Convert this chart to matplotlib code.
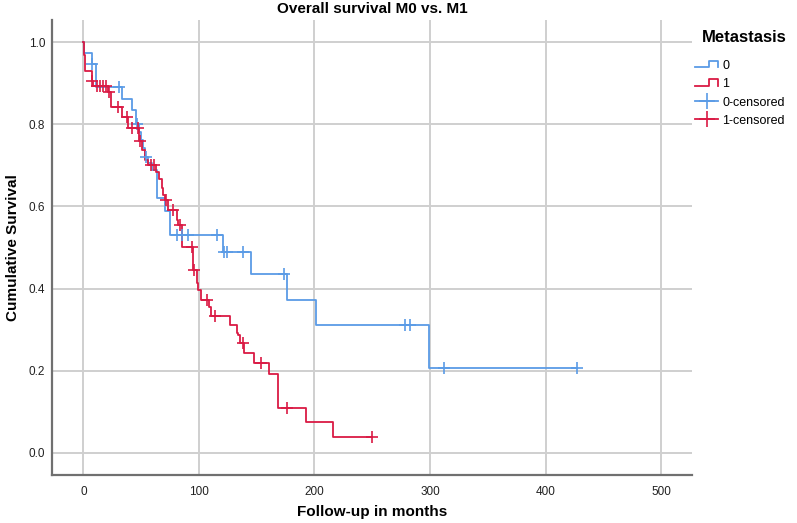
import numpy as np
import matplotlib
matplotlib.use("Agg")
import matplotlib.pyplot as plt
from matplotlib.lines import Line2D
from matplotlib.legend_handler import HandlerBase

plt.rcParams['font.family'] = ['Liberation Sans', 'DejaVu Sans']

# ---- data ----
title = "Overall survival M0 vs. M1"
xlabel = "Follow-up in months"
ylabel = "Cumulative Survival"
legend_title = "Metastasis"
labels = ["0", "1", "0-censored", "1-censored"]
xticks = [0, 100, 200, 300, 400, 500]
yticks = [0.0, 0.2, 0.4, 0.6, 0.8, 1.0]

m0_times = [0, 0.5, 7.2, 10.8, 33.6, 41.7, 45.7, 48, 50, 51.4, 53, 56, 59, 63.4,
            70.6, 75, 121, 145, 176, 201.5, 299]
m0_surv = [1.0, 0.974, 0.948, 0.890, 0.863, 0.835, 0.800, 0.782, 0.762, 0.742,
           0.720, 0.705, 0.689, 0.620, 0.590, 0.530, 0.488, 0.435, 0.372, 0.310, 0.207]
m0_end = 427
m0_censored = [7.5, 31, 46.5, 54, 80.8, 85, 90.8, 115.4, 121.5, 124, 138.5, 174,
               278.6, 283, 312, 427]

m1_times = [0, 0.2, 1.0, 7.1, 8.5, 21.3, 23.6, 33, 39, 48, 50.5, 53, 56, 62.8,
            65.7, 67.7, 69.2, 70.6, 73.5, 80.7, 82.2, 85, 95.2, 98.1, 99.5, 101.5,
            108.3, 110.3, 127, 132.8, 134.2, 135.6, 139, 147.7, 161, 168.8, 192.8, 215.9]
m1_surv = [1.0, 0.969, 0.930, 0.905, 0.893, 0.880, 0.843, 0.817, 0.790, 0.760,
           0.737, 0.713, 0.700, 0.684, 0.667, 0.644, 0.628, 0.616, 0.591, 0.567,
           0.555, 0.502, 0.445, 0.413, 0.397, 0.372, 0.356, 0.333, 0.311, 0.291,
           0.287, 0.267, 0.243, 0.218, 0.191, 0.109, 0.074, 0.038]
m1_end = 250
m1_censored = [7.8, 11.4, 14.3, 17.2, 19.2, 22.5, 30.2, 37.6, 41.9, 47.6, 49, 58.2,
               61, 71.5, 77.8, 84, 93.7, 95.7, 107, 114, 138, 153.8, 176, 250]

blue = '#5A9BE6'
red = '#DA1A44'


def surv_at(times, surv, t):
    idx = np.searchsorted(np.asarray(times), t, side='right') - 1
    return np.asarray(surv)[idx]


fig = plt.figure(figsize=(7.97, 5.23), dpi=100)
ax = fig.add_axes([52 / 797, 1 - 475 / 523, (692 - 52) / 797, (475 - 20) / 523])

for times, surv, end, cens, col in [(m0_times, m0_surv, m0_end, m0_censored, blue),
                                    (m1_times, m1_surv, m1_end, m1_censored, red)]:
    ax.step(list(times) + [end], list(surv) + [surv[-1]], where='post',
            color=col, lw=1.3, zorder=3)
    ax.plot(cens, surv_at(times, surv, cens), ls='none', marker='+',
            ms=8, mew=1.2, color=col, zorder=4)

ax.set_xlim(-27.2, 526.8)
ax.set_ylim(-0.0543, 1.0543)
ax.set_xticks(xticks)
ax.set_yticks(yticks)
ax.set_xticklabels([str(v) for v in xticks])
ax.set_yticklabels([f"{v:.1f}" for v in yticks])
ax.grid(True, color='#CFCFCF', lw=1.4)
ax.set_axisbelow(True)
for s in ['top', 'right']:
    ax.spines[s].set_visible(False)
for s in ['left', 'bottom']:
    ax.spines[s].set_color('#707070')
    ax.spines[s].set_linewidth(1.6)
ax.tick_params(length=0, labelsize=8.5, colors='#222222')
ax.tick_params(axis='y', pad=5)
ax.tick_params(axis='x', pad=8)

ax.set_title(title, fontsize=11, fontweight='bold', pad=5)
ax.set_xlabel(xlabel, fontsize=11, fontweight='bold', labelpad=5)
ax.set_ylabel(ylabel, fontsize=11, fontweight='bold', labelpad=6)


class StepHandler(HandlerBase):
    def create_artists(self, legend, orig_handle, xdescent, ydescent, width,
                       height, fontsize, trans):
        x0, y0 = -xdescent, -ydescent
        xs = [x0, x0 + 0.62 * width, x0 + 0.62 * width, x0 + width, x0 + width]
        ys = [y0 + 0.2 * height, y0 + 0.2 * height, y0 + 0.95 * height,
              y0 + 0.95 * height, y0 + 0.2 * height]
        ln = Line2D(xs, ys, color=orig_handle.get_color(), lw=1.3)
        ln.set_transform(trans)
        return [ln]


fig.text(702 / 797, 1 - 37 / 523, legend_title, fontsize=12, fontweight='bold',
         ha='left', va='center')

h0 = Line2D([], [], color=blue, lw=1.3)
h1 = Line2D([], [], color=red, lw=1.3)
h2 = Line2D([], [], color=blue, lw=1.3, marker='+', ms=11, mew=1.2)
h3 = Line2D([], [], color=red, lw=1.3, marker='+', ms=11, mew=1.2)
leg = fig.legend([h0, h1, h2, h3], labels,
                 loc='upper left', bbox_to_anchor=(695 / 797, 1 - 60 / 523),
                 frameon=False, fontsize=9,
                 handlelength=1.85, handletextpad=0.35, labelspacing=0.5,
                 borderpad=0, borderaxespad=0,
                 handler_map={h0: StepHandler(), h1: StepHandler()})

fig.savefig('out.png', dpi=100)
